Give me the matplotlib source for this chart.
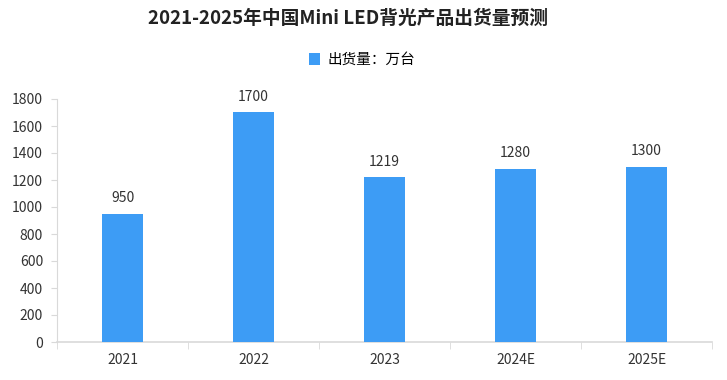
import matplotlib
matplotlib.use("Agg")
import matplotlib.pyplot as plt
import numpy as np

plt.rcParams['font.family'] = ['Noto Sans CJK SC', 'DejaVu Sans']

categories = ["2021", "2022", "2023", "2024E", "2025E"]
values = [950, 1700, 1219, 1280, 1300]
yticks = [0, 200, 400, 600, 800, 1000, 1200, 1400, 1600, 1800]
title = "2021-2025年中国Mini LED背光产品出货量预测"
series_name = "出货量：万台"

fig = plt.figure(figsize=(7.27, 3.80), dpi=100)
ax = fig.add_axes([57/727, 38/380, (712-57)/727, (342-99)/380])
x = np.arange(len(categories))
bars = ax.bar(x, values, width=0.32, color="#3d9cf5", label=series_name, zorder=3)
ax.set_xlim(-0.5, len(categories) - 0.5)
ax.set_ylim(0, 1800)
ax.set_yticks(yticks)
ax.set_yticklabels([str(v) for v in yticks], fontsize=10, color="#333333")
ax.set_xticks(x)
ax.set_xticklabels(categories, fontsize=10, color="#333333")
ax.tick_params(axis='x', length=0, pad=8)
ax.tick_params(axis='y', length=4, color="#d9d9d9", pad=6)
ax.set_xticks(np.arange(len(categories) + 1) - 0.5, minor=True)
ax.tick_params(axis='x', which='minor', length=5, color="#d9d9d9")
for s in ["top", "right"]:
    ax.spines[s].set_visible(False)
ax.spines["left"].set_color("#d9d9d9")
ax.spines["bottom"].set_color("#d9d9d9")
ax.spines["bottom"].set_linewidth(1.2)
for xi, v in zip(x, values):
    ax.text(xi, v + 65, str(v), ha="center", va="bottom", fontsize=10, color="#333333")

fig.text(348/727, 1 - 18/380, title, ha="center", va="center", fontsize=13.5, fontweight="bold", color="#222222")
fig.legend(handles=[bars], labels=[series_name], loc="center", bbox_to_anchor=(362/727, 1 - 60/380),
           frameon=False, fontsize=10.5, handlelength=0.8, handleheight=0.8, handletextpad=0.5)

fig.savefig("out.png", dpi=100)
